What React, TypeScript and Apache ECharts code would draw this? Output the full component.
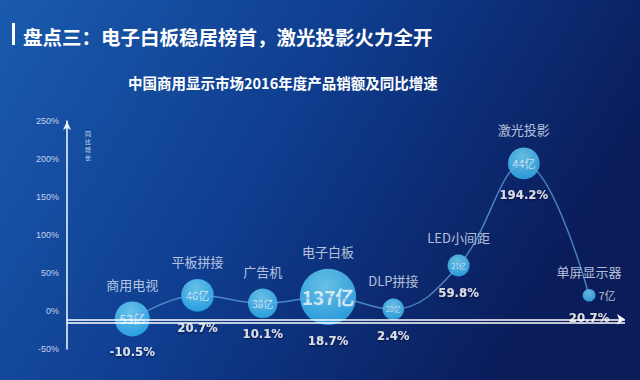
import React, { useEffect, useRef } from "react";
import * as echarts from "echarts";

const categories = ["商用电视", "平板拼接", "广告机", "电子白板", "DLP拼接", "LED小间距", "激光投影", "单屏显示器"];
const sales = [53, 46, 38, 137, 20, 21, 44, 7]; // 亿元
const growth = [-10.5, 20.7, 10.1, 18.7, 2.4, 59.8, 194.2, 20.7]; // %
const yMin = -50;
const yMax = 250;
const yStep = 50;
const xMin = -1;
const xMax = 7.55;
const titleText = "盘点三：电子白板稳居榜首，激光投影火力全开";
const subtitleText = "中国商用显示市场2016年度产品销额及同比增速";
const yAxisName = "同比增长";

const bubbleSize = (v: number) => 4.8 * Math.sqrt(v);

export default function App() {
  const ref = useRef<HTMLDivElement>(null);
  useEffect(() => {
    if (!ref.current) return;
    const chart = echarts.init(ref.current, null, { renderer: "svg" });
    const points = categories.map((c, i) => [i, growth[i]]);
    const bubbleColor = new echarts.graphic.RadialGradient(0.45, 0.3, 0.8, [
      { offset: 0, color: "#7ee2fd" },
      { offset: 1, color: "#27b0f2" },
    ]);
    chart.setOption({
      animation: false,
      backgroundColor: new echarts.graphic.LinearGradient(0, 0, 1, 0.35, [
        { offset: 0, color: "#1a5bae" },
        { offset: 0.5, color: "#0f3d8f" },
        { offset: 1, color: "#0a1c5a" },
      ]),
      title: [
        {
          text: titleText,
          left: 18,
          top: 22,
          textStyle: { color: "#ffffff", fontSize: 19.5, fontWeight: "bold", fontFamily: "Noto Sans CJK SC" },
        },
        {
          text: subtitleText,
          left: 123,
          top: 70,
          textStyle: { color: "#ffffff", fontSize: 14.5, fontWeight: "bold", fontFamily: "Noto Sans CJK SC" },
        },
      ],
      graphic: [
        { type: "rect", left: 12, top: 23, shape: { width: 3, height: 22 }, style: { fill: "#ffffff" } },
        {
          type: "text",
          left: 85,
          top: 129,
          style: {
            text: yAxisName.split("").join("\n"),
            fill: "#d8e4f6",
            fontSize: 6,
            lineHeight: 8,
            fontFamily: "Noto Sans CJK SC",
          },
        },
      ],
      grid: { left: 67, right: 15, top: 121, bottom: 31, containLabel: false },
      xAxis: {
        type: "value",
        min: xMin,
        max: xMax,
        show: false,
        axisLine: { onZero: false },
      },
      yAxis: {
        type: "value",
        min: yMin,
        max: yMax,
        interval: yStep,
        axisLine: {
          show: true,
          onZero: false,
          symbol: ["none", "arrow"],
          symbolSize: [6, 9],
          lineStyle: { color: "#e6f0ff", width: 1.6 },
        },
        axisTick: { show: false },
        splitLine: { show: false },
        axisLabel: {
          formatter: "{value}%",
          color: "#c6d4ee",
          fontSize: 9,
          margin: 8,
          fontFamily: "Liberation Sans",
        },
      },
      series: [
        {
          type: "line",
          data: points,
          smooth: 0.4,
          showSymbol: false,
          silent: true,
          lineStyle: { color: "rgba(100,170,230,0.7)", width: 1.5 },
          markLine: {
            silent: true,
            symbol: "none",
            label: { show: false },
            lineStyle: { color: "#ffffff", width: 1.5, type: "solid" },
            data: [
              [
                { coord: [xMin, -11], symbol: "none" },
                { coord: [xMax, -11], symbol: "arrow", symbolSize: 8 },
              ],
              [
                { coord: [xMin, -15.5], symbol: "none" },
                { coord: [xMax, -15.5], symbol: "none" },
              ],
            ],
          },
        },
        {
          type: "scatter",
          data: points,
          symbolSize: (v: number[]) => bubbleSize(sales[v[0]]),
          itemStyle: { color: bubbleColor },
          label: {
            show: true,
            position: "top",
            distance: 11,
            formatter: (p: any) => categories[p.dataIndex],
            color: "#e0e9f8",
            fontSize: 13,
            fontFamily: "Noto Sans CJK SC",
          },
        },
        {
          type: "scatter",
          data: points,
          symbolSize: (v: number[]) => bubbleSize(sales[v[0]]),
          itemStyle: { color: "rgba(0,0,0,0)" },
          label: {
            show: true,
            position: "bottom",
            distance: 9,
            formatter: (p: any) => growth[p.dataIndex].toFixed(1) + "%",
            color: "#ffffff",
            fontSize: 13,
            fontWeight: "bold",
            fontFamily: "DejaVu Sans Condensed, Liberation Sans Narrow, sans-serif",
            textShadowColor: "rgba(0,10,50,0.9)",
            textShadowBlur: 2,
            textShadowOffsetY: 1,
          },
        },
        {
          type: "scatter",
          data: points.map((p, i) => {
            const d = bubbleSize(sales[i]);
            const small = d < 15;
            return {
              value: p,
              label: {
                position: small ? "right" : "inside",
                fontSize: small ? 11 : Math.max(7, Math.round(d / 3)),
                fontWeight: d > 50 ? "bold" : "normal",
              },
            };
          }),
          symbolSize: (v: number[]) => bubbleSize(sales[v[0]]),
          itemStyle: { color: "rgba(0,0,0,0)" },
          label: {
            show: true,
            distance: 3,
            formatter: (p: any) => sales[p.dataIndex] + "亿",
            color: "rgba(255,255,255,0.92)",
            fontFamily: "Noto Sans CJK SC",
          },
        },
      ],
    });
    return () => chart.dispose();
  }, []);
  return (
    <div
      ref={ref}
      style={{ position: "absolute", left: 0, top: 0, width: 640, height: 380 }}
    />
  );
}
